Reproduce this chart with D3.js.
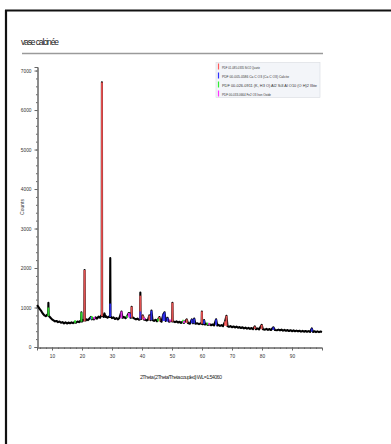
<!DOCTYPE html>
<html>
<head>
<meta charset="utf-8">
<script src="https://cdn.jsdelivr.net/npm/d3@7"></script>
<style>
  body { margin: 0; background: #fff; }
  text { font-family: "Liberation Sans Narrow", "Liberation Sans", Arial, sans-serif; }
</style>
</head>
<body>
<div id="chart"></div>
<script>
// diffractogram: [2theta, counts]
const scan = [
  [5.0,1060],[5.5,1010],[6.0,950],[6.5,900],[7.0,840],[7.5,800],[8.0,780],[8.4,820],[8.7,800],[8.8,1120],[8.9,790],
  [9.5,740],[10.0,700],[10.5,675],[11.0,650],[11.5,660],[12.0,630],[12.5,645],[13.0,615],[13.5,630],[14.0,600],
  [14.5,625],[15.0,595],[15.5,620],[16.0,600],[16.5,625],[17.0,605],[17.5,630],[18.0,615],[18.5,645],[19.0,630],
  [19.5,660],[19.7,650],[19.8,880],[19.9,660],[20.1,650],[20.5,690],[20.78,680],[20.86,1950],[20.94,670],[21.2,670],
  [21.5,700],[22.0,680],[22.5,720],[23.0,760],[23.3,700],[23.5,730],[24.0,700],[24.5,750],[25.0,720],[25.5,770],
  [26.0,740],[26.4,800],[26.58,790],[26.64,6700],[26.7,820],[26.9,790],[27.2,760],[27.5,850],[27.8,760],[28.0,780],
  [28.5,740],[29.0,770],[29.35,760],[29.42,2250],[29.5,770],[29.7,760],[30.0,730],[30.5,750],
  [31.0,710],[31.5,730],[32.0,700],[32.5,740],[33.15,900],[33.5,740],[34.0,760],[34.5,730],[35.0,770],[35.6,860],
  [36.0,850],[36.2,740],[36.47,760],[36.55,1020],[36.63,750],[36.9,750],[37.5,720],[38.0,700],[38.5,720],[39.0,690],
  [39.37,700],[39.45,1380],[39.53,710],[39.8,710],[40.3,800],
  [40.7,690],[41.0,700],[41.5,670],[42.0,690],[42.45,800],[42.8,680],[43.15,920],[43.5,680],[44.0,660],[44.5,690],
  [45.0,650],[45.8,760],[46.2,660],[46.5,640],[47.1,830],[47.5,880],[47.9,660],[48.5,740],[49.0,640],[49.5,660],
  [50.06,650],[50.14,1120],[50.22,650],[50.5,650],[51.0,630],[51.5,650],[52.0,620],[52.5,640],[53.0,610],[53.5,640],
  [54.0,610],[54.9,700],[55.3,610],[56.0,590],[56.6,700],[57.0,600],[57.4,720],[57.8,590],[58.5,600],[59.0,580],
  [59.5,600],[59.88,590],[59.96,900],[60.04,580],[60.4,580],[60.7,680],[61.0,570],[61.5,590],[62.0,560],[62.5,580],
  [63.0,550],[63.5,570],[64.0,545],[64.7,700],
  [65.1,545],[65.5,560],[66.0,535],[66.5,555],[67.0,530],[67.7,650],[68.15,790],[68.5,530],[69.0,510],[69.5,530],
  [70.0,500],[70.5,520],[71.0,495],[71.5,515],[72.0,490],[72.5,505],[73.0,480],[73.5,500],[74.0,470],[74.5,490],
  [75.0,465],[75.5,485],[76.0,460],[76.5,480],[77.0,455],[77.6,520],[78.0,450],[78.5,470],[79.0,445],[79.9,560],
  [80.3,450],[81.0,440],[81.5,460],[82.0,435],[82.5,455],[83.0,430],[83.8,500],[84.3,430],[85.0,425],[85.5,440],
  [86.0,420],[86.5,440],[87.0,415],[87.5,435],[88.0,410],[88.5,430],[89.0,405],[89.5,425],[90.0,400],[90.5,420],
  [91.0,398],[91.5,415],[92.0,395],[92.5,412],[93.0,390],[93.5,410],[94.0,388],[94.5,405],[95.0,385],[95.5,402],
  [96.0,382],[96.6,470],[97.0,380],[97.5,398],[98.0,378],[98.5,395],[99.0,376],[99.5,392],[100.0,380]
];

// phase sticks: [2theta, from counts, to counts]
const quartz = [[20.86,650,1950],[26.64,780,6700],[36.55,740,1020],[39.45,700,1300],[40.3,700,800],[42.45,680,800],
  [45.8,650,760],[50.14,640,1120],[54.9,610,700],[59.96,590,900],[67.7,540,650],[68.15,530,790],[77.6,460,520],[79.9,450,560]];
const calcite = [[23.0,700,760],[29.42,760,1100],[36.0,750,850],[39.45,700,900],[43.15,680,920],[47.1,660,830],
  [47.5,660,880],[48.5,640,740],[56.6,600,700],[57.4,600,720],[60.7,580,680],[64.7,550,700],[83.8,430,500],[96.6,390,470]];
const illite = [[8.8,780,1000],[17.7,610,680],[19.8,640,880],[23.3,700,780],[35.0,740,800],[45.4,650,720],
  [53.7,610,690],[61.8,560,620]];
const hematite = [[24.1,700,760],[33.15,730,900],[35.6,750,860],[40.8,690,740],[49.4,640,700],[54.0,610,660],[62.4,560,610]];

const phaseNames = [
  "PDF 01-085-0335 SiO2 Quartz",
  "PDF 00-005-0586 Ca C O3 (Ca C O3) Calcite",
  "PDF 00-026-0911 (K, H3 O) Al2 Si3 Al O10 (O H)2 Illite",
  "PDF 00-033-0664 Fe2 O3 Iron Oxide"
];
const phaseColors = ["#ff5a5a", "#3030ff", "#30ee30", "#ff30ff"];
const phases = [quartz, calcite, illite, hematite];

const xTicks = [10, 20, 30, 40, 50, 60, 70, 80, 90];
const yTicks = [0, 1000, 2000, 3000, 4000, 5000, 6000, 7000];

const W = 391, H = 444;
const svg = d3.select('#chart').append('svg')
  .attr('width', W).attr('height', H);

// frame
svg.append('line').attr('x1', 5).attr('x2', W).attr('y1', 10.5).attr('y2', 10.5)
  .attr('stroke', '#111').attr('stroke-width', 2);
svg.append('line').attr('x1', 6).attr('x2', 6).attr('y1', 10).attr('y2', H)
  .attr('stroke', '#111').attr('stroke-width', 2.2);

// title
svg.append('text').attr('x', 21).attr('y', 45).attr('font-size', 8.5)
  .attr('textLength', 38).attr('fill', '#222').text('vase calcinée');
svg.append('line').attr('x1', 22).attr('x2', 323).attr('y1', 53.5).attr('y2', 53.5)
  .attr('stroke', '#9a9a9a').attr('stroke-width', 1.5);

const x = d3.scaleLinear().domain([5, 100]).range([37, 322]);
const y = d3.scaleLinear().domain([0, 7090]).range([347, 67]);

// axes
const gx = svg.append('g').attr('transform', 'translate(0,347.5)')
  .call(d3.axisBottom(x).tickValues(d3.range(6, 100, 2)).tickSize(1.5).tickFormat(''));
gx.append('g').call(d3.axisBottom(x).tickValues(xTicks).tickSize(3).tickFormat(d3.format('d')));
const gy = svg.append('g').attr('transform', 'translate(37.5,0)')
  .call(d3.axisLeft(y).tickValues(d3.range(200, 7090, 200)).tickSize(1.5).tickFormat(''));
gy.append('g').call(d3.axisLeft(y).tickValues(yTicks).tickSize(3).tickFormat(d3.format('d')));
svg.selectAll('.domain').attr('stroke', '#666');
svg.selectAll('.tick line').attr('stroke', '#666');
svg.selectAll('.tick text').attr('font-size', 4.8).attr('fill', '#333');
gx.selectAll('.tick text').attr('dy', '0.9em');

svg.append('text').attr('transform', 'translate(24,207) rotate(-90)')
  .attr('text-anchor', 'middle').attr('font-size', 5).attr('fill', '#333').text('Counts');
svg.append('text').attr('x', 140).attr('y', 379).attr('font-size', 5.5)
  .attr('textLength', 82).attr('fill', '#333')
  .text('2Theta (2Theta/Theta coupled) WL=1.54060');

// pattern
const line = d3.line().x(d => x(d[0])).y(d => y(d[1]));
svg.append('path').datum(scan).attr('d', line)
  .attr('fill', 'none').attr('stroke', '#000').attr('stroke-width', 2.1)
  .attr('stroke-linejoin', 'round');

// phase sticks
phases.forEach((p, i) => {
  svg.append('g').selectAll('line').data(p).join('line')
    .attr('x1', d => x(d[0])).attr('x2', d => x(d[0]))
    .attr('y1', d => y(d[1])).attr('y2', d => y(d[2]))
    .attr('stroke', phaseColors[i]).attr('stroke-width', 1.9).attr('opacity', 0.88);
});

// legend
const lg = svg.append('g');
lg.append('rect').attr('x', 216).attr('y', 62.5).attr('width', 104).attr('height', 35)
  .attr('fill', '#f3f5f9').attr('stroke', '#d8dbe0').attr('stroke-width', 0.6);
const legLens = [38, 67, 95, 49];
phaseNames.forEach((n, i) => {
  const yy = 67 + i * 9;
  lg.append('line').attr('x1', 218.5).attr('x2', 218.5).attr('y1', yy - 3.5).attr('y2', yy + 2.5)
    .attr('stroke', phaseColors[i]).attr('stroke-width', 1.2);
  lg.append('text').attr('x', 222).attr('y', yy + 1.5).attr('font-size', 4.3)
    .attr('textLength', legLens[i]).attr('lengthAdjust', 'spacingAndGlyphs')
    .attr('fill', '#333').text(n);
});
</script>
</body>
</html>
